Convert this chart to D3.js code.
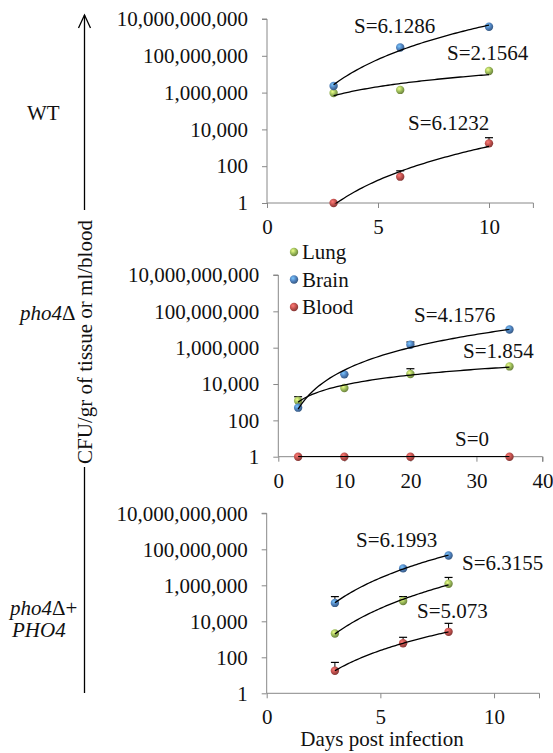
<html>
<head>
<script src="https://d3js.org/d3.v7.min.js"></script>
<style>
  body { margin: 0; background: #fff; }
  text { font-family: "Liberation Serif", "Times New Roman", serif; font-size: 21px; fill: #111; }
</style>
</head>
<body>
<div id="chart"></div>
<script>
// ---- data (CFU) ----
const yTicks = [1, 100, 1e4, 1e6, 1e8, 1e10];

const wtDays = [3, 6, 10];
const wtLung = [9.5e5, 1.4e6, 1.5e7];
const wtBrain = [2.3e6, 2.8e8, 3.8e9];
const wtBlood = [1, 27, 1740];
const wtBloodErr = [0, 29, 1800];
const wtSlopes = ["S=6.1286", "S=2.1564", "S=6.1232"];

const koDays = [3, 10, 20, 35];
const koLung = [1200, 6000, 35500, 93000];
const koLungErr = [800, 0, 34000, 0];
const koBrain = [500, 34000, 1.45e6, 1.0e7];
const koBrainErr = [0, 0, 6e5, 0];
const koBlood = [1, 1, 1, 1];
const koSlopes = ["S=4.1576", "S=1.854", "S=0"];

const compDays = [3, 6, 8];
const compLung = [2100, 135000, 1.23e6];
const compLungErr = [0, 100000, 1.5e6];
const compBrain = [105000, 8.7e6, 4.5e7];
const compBrainErr = [130000, 0, 0];
const compBlood = [18, 600, 2600];
const compBloodErr = [34, 690, 5100];
const compSlopes = ["S=6.1993", "S=6.3155", "S=5.073"];

const colors = { Lung: "#9bbb59", Brain: "#4f81bd", Blood: "#c0504d" };

const svg = d3.select("#chart").append("svg")
    .attr("width", 553).attr("height", 753);

// shaded ball markers
const defs = svg.append("defs");
Object.entries(colors).forEach(([k, c]) => {
    const g = defs.append("radialGradient").attr("id", "g" + k)
        .attr("cx", "38%").attr("cy", "35%").attr("r", "65%");
    g.append("stop").attr("offset", "0%").attr("stop-color", d3.color(c).brighter(1.2));
    g.append("stop").attr("offset", "55%").attr("stop-color", c);
    g.append("stop").attr("offset", "100%").attr("stop-color", d3.color(c).darker(1));
});

// power trend line, least squares in log-log
function powerFit(xs, ys) {
    const lx = xs.map(Math.log10), ly = ys.map(Math.log10);
    const mx = d3.mean(lx), my = d3.mean(ly);
    const sxx = d3.sum(lx, v => (v - mx) * (v - mx));
    const sxy = d3.sum(lx, (v, i) => (v - mx) * (ly[i] - my));
    const b = sxx ? sxy / sxx : 0;
    const a = my - b * mx;
    return x => Math.pow(10, a + b * Math.log10(x));
}

function drawPanel(p) {
    const x = d3.scaleLinear().domain([0, p.xMax]).range([p.left, p.right]);
    const y = d3.scaleLog().domain([1, 1e10]).range([p.bottom, p.top]);

    const gAxis = svg.append("g");
    gAxis.append("g").attr("transform", `translate(${p.left},0)`)
        .call(d3.axisLeft(y).tickValues(yTicks).tickFormat(d3.format(",")).tickSize(5).tickPadding(14))
        .call(g => g.select(".domain").attr("stroke", "#888").attr("d", `M-5,${p.top}H0V${p.bottom}`));
    gAxis.append("g").attr("transform", `translate(0,${p.bottom})`)
        .call(d3.axisBottom(x).tickValues(p.xTicks).tickSize(5).tickPadding(11))
        .call(g => g.select(".domain").attr("stroke", "#888").attr("d", `M${p.left},0H${p.right}V5`));
    gAxis.selectAll(".tick line").attr("stroke", "#888");
    gAxis.selectAll(".tick text").style("font-family", "Liberation Serif").style("font-size", "21px").attr("fill", "#111");

    const clipId = "clip" + p.id;
    svg.append("clipPath").attr("id", clipId).append("rect")
        .attr("x", p.left).attr("y", p.top - 10).attr("width", p.right - p.left).attr("height", p.bottom - p.top + 10.5);

    const plot = svg.append("g");
    p.series.forEach(s => {
        // error bars (upper only)
        if (s.err) {
            s.values.forEach((v, i) => {
                if (!s.err[i]) return;
                const cx = x(p.days[i]), y0 = y(v), y1 = y(v + s.err[i]);
                plot.append("line").attr("x1", cx).attr("x2", cx).attr("y1", y0).attr("y2", y1)
                    .attr("stroke", "#000").attr("stroke-width", 1);
                plot.append("line").attr("x1", cx - 4).attr("x2", cx + 4).attr("y1", y1).attr("y2", y1)
                    .attr("stroke", "#000").attr("stroke-width", 1.2);
            });
        }
        plot.selectAll(null).data(s.values).enter().append("circle")
            .attr("cx", (d, i) => x(p.days[i])).attr("cy", d => y(d)).attr("r", 4.2)
            .attr("fill", `url(#g${s.name})`);
    });
    p.series.forEach(s => {
        const f = powerFit(p.days, s.values);
        const xs = d3.range(0, 61).map(i => p.days[0] + (p.days[p.days.length - 1] - p.days[0]) * i / 60);
        plot.append("path").attr("clip-path", `url(#${clipId})`)
            .attr("d", d3.line().x(d => x(d)).y(d => y(f(d)))(xs))
            .attr("fill", "none").attr("stroke", "#000").attr("stroke-width", 1.3);
    });
    p.labels.forEach(l => {
        svg.append("text").attr("x", l.x).attr("y", l.y).text(l.text);
    });
}

drawPanel({
    id: 1, left: 267, right: 533.4, top: 19, bottom: 203, xMax: 12, xTicks: [0, 5, 10],
    days: wtDays,
    series: [
        { name: "Lung", values: wtLung },
        { name: "Brain", values: wtBrain },
        { name: "Blood", values: wtBlood, err: wtBloodErr }
    ],
    labels: [
        { text: wtSlopes[0], x: 354, y: 33 },
        { text: wtSlopes[1], x: 447, y: 60 },
        { text: wtSlopes[2], x: 408, y: 130 }
    ]
});

drawPanel({
    id: 2, left: 278.3, right: 542.5, top: 275, bottom: 456.7, xMax: 40, xTicks: [0, 10, 20, 30, 40],
    days: koDays,
    series: [
        { name: "Lung", values: koLung, err: koLungErr },
        { name: "Brain", values: koBrain, err: koBrainErr },
        { name: "Blood", values: koBlood }
    ],
    labels: [
        { text: koSlopes[0], x: 414, y: 322 },
        { text: koSlopes[1], x: 463, y: 358 },
        { text: koSlopes[2], x: 455, y: 446 }
    ]
});

drawPanel({
    id: 3, left: 266.7, right: 539.5, top: 513.3, bottom: 693.3, xMax: 12, xTicks: [0, 5, 10],
    days: compDays,
    series: [
        { name: "Lung", values: compLung, err: compLungErr },
        { name: "Brain", values: compBrain, err: compBrainErr },
        { name: "Blood", values: compBlood, err: compBloodErr }
    ],
    labels: [
        { text: compSlopes[0], x: 356, y: 547 },
        { text: compSlopes[1], x: 462, y: 570 },
        { text: compSlopes[2], x: 417, y: 618 }
    ]
});

// legend
["Lung", "Brain", "Blood"].forEach((k, i) => {
    const cy = 252 + i * 27.5;
    svg.append("circle").attr("cx", 294).attr("cy", cy).attr("r", 4.2).attr("fill", `url(#g${k})`);
    svg.append("text").attr("x", 302).attr("y", cy + 7).text(k);
});

// x title
svg.append("text").attr("x", 382).attr("y", 746).attr("text-anchor", "middle").text("Days post infection");

// left-side y title with arrow
svg.append("line").attr("x1", 84.5).attr("x2", 84.5).attr("y1", 15).attr("y2", 210).attr("stroke", "#000").attr("stroke-width", 1.3);
svg.append("path").attr("d", "M78.5,28 L84.5,15 L90.5,28").attr("fill", "none").attr("stroke", "#000").attr("stroke-width", 1.3);
svg.append("text").attr("transform", "translate(92,342) rotate(-90)").attr("text-anchor", "middle")
    .text("CFU/gr of tissue or ml/blood");
svg.append("line").attr("x1", 84.5).attr("x2", 84.5).attr("y1", 467).attr("y2", 693).attr("stroke", "#000").attr("stroke-width", 1.3);

// strain labels
svg.append("text").attr("x", 27).attr("y", 120).text("WT");
const t2 = svg.append("text").attr("x", 20).attr("y", 320);
t2.append("tspan").style("font-style", "italic").text("pho4");
t2.append("tspan").text("\u0394");
const t3 = svg.append("text").attr("x", 10).attr("y", 615);
t3.append("tspan").style("font-style", "italic").text("pho4");
t3.append("tspan").text("\u0394+");
svg.append("text").attr("x", 12).attr("y", 637).style("font-style", "italic").text("PHO4");
</script>
</body>
</html>
